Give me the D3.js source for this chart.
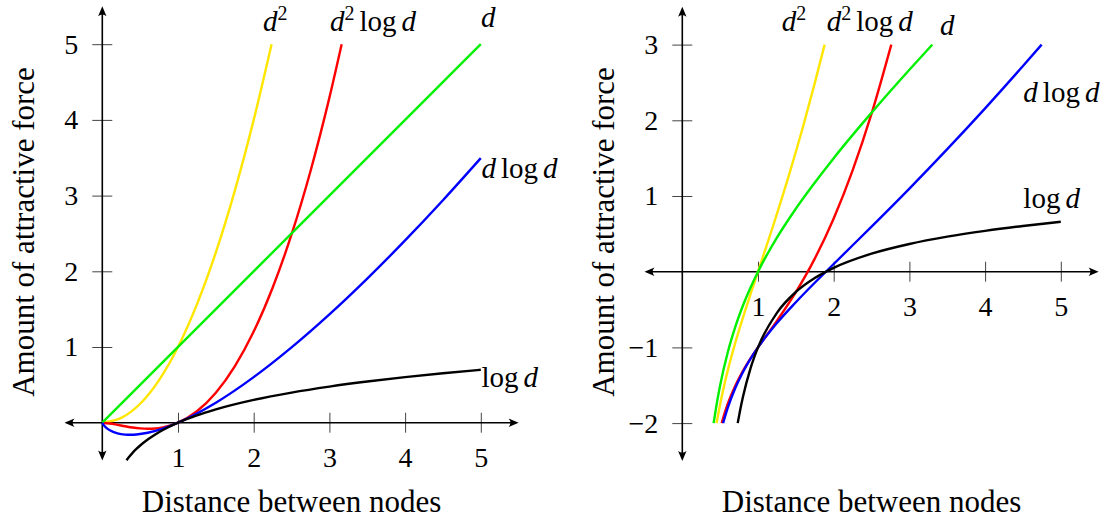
<!DOCTYPE html>
<html>
<head>
<meta charset="utf-8">
<script src="https://cdn.jsdelivr.net/npm/d3@7"></script>
</head>
<body style="margin:0; background:#fff">
<svg id="chart"></svg>
<script>
const width = 1104;
const height = 520;
const U = 75.7; // pixels per unit, both panels
const FONT = '"Liberation Serif"';

// tick labels
const xTicks = [1, 2, 3, 4, 5];
const leftYTicks = [1, 2, 3, 4, 5];
const rightYTicks = [-2, -1, 1, 2, 3];

// left panel, attractive force [d, f]
const leftSquare = [[0,0],[0.25,0.063],[0.5,0.25],[0.75,0.563],[1,1],[1.25,1.563],[1.5,2.25],[1.75,3.063],[2,4],[2.236,5]];
const leftSquareLog = [[0,0],[0.1,-0.01],[0.2,-0.028],[0.3,-0.047],[0.4,-0.064],[0.5,-0.075],[0.6,-0.08],[0.7,-0.076],[0.8,-0.062],[0.9,-0.037],[1,0],[1.25,0.151],[1.5,0.396],[1.75,0.744],[2,1.204],[2.25,1.783],[2.5,2.487],[2.75,3.322],[3,4.294],[3.162,5]];
const leftLinear = [[0,0],[5,5]];
const leftLinLog = [[0,0],[0.01,-0.02],[0.02,-0.034],[0.05,-0.065],[0.1,-0.1],[0.2,-0.14],[0.3,-0.157],[0.37,-0.16],[0.45,-0.156],[0.6,-0.133],[0.8,-0.078],[1,0],[1.5,0.264],[2,0.602],[2.5,0.995],[3,1.431],[3.5,1.904],[4,2.408],[4.5,2.939],[5,3.495]];
const leftLog = [[0.32,-0.495],[0.35,-0.456],[0.4,-0.398],[0.45,-0.347],[0.5,-0.301],[0.6,-0.222],[0.7,-0.155],[0.8,-0.097],[1,0],[1.25,0.097],[1.5,0.176],[2,0.301],[2.5,0.398],[3,0.477],[3.5,0.544],[4,0.602],[4.5,0.653],[5,0.699]];

// right panel, same forces with repulsion taken off
const rightSquare = [[0.453,-2],[0.5,-1.75],[0.55,-1.516],[0.6,-1.307],[0.7,-0.939],[0.8,-0.61],[0.9,-0.301],[1,0],[1.2,0.607],[1.4,1.246],[1.6,1.935],[1.75,2.491],[1.88,3]];
const rightSquareLog = [[0.52,-2],[0.55,-1.897],[0.6,-1.746],[0.7,-1.505],[0.8,-1.312],[0.9,-1.148],[1,-1],[1.25,-0.649],[1.5,-0.27],[1.75,0.173],[2,0.704],[2.25,1.339],[2.5,2.087],[2.761,3]];
const rightLinear = [[0.414,-2],[0.45,-1.772],[0.5,-1.5],[0.6,-1.067],[0.7,-0.729],[0.8,-0.45],[1,0],[1.25,0.45],[1.5,0.833],[2,1.5],[2.5,2.1],[3,2.667],[3.303,3]];
const rightLinLog = [[0.539,-2],[0.6,-1.8],[0.7,-1.537],[0.8,-1.328],[0.9,-1.152],[1,-1],[1.25,-0.679],[1.5,-0.403],[2,0.102],[2.5,0.595],[3,1.098],[3.5,1.619],[4,2.158],[4.5,2.717],[4.747,3]];
const rightLog = [[0.732,-2],[0.76,-1.85],[0.8,-1.659],[0.9,-1.28],[1,-1],[1.25,-0.543],[1.5,-0.268],[1.75,-0.084],[2,0.051],[2.5,0.238],[3,0.366],[3.5,0.463],[4,0.54],[4.5,0.604],[5,0.659]];

const YELLOW = "#ffe600", RED = "#ff0000", GREEN = "#00f000", BLUE = "#0000ff", BLACK = "#000";

// label pieces: [text, kind]  kind: i = italic, s = superscript, r = roman
const lblSq = [["d","i"],["2","s"]];
const lblSqLog = [["d","i"],["2","s"],["log","r"],["d","i"]];
const lblLin = [["d","i"]];
const lblLinLog = [["d","i"],["log","r"],["d","i"]];
const lblLog = [["log","r"],["d","i"]];

const panels = [
  {
    ox: 102.3, oy: 422.7, yDomain: [-0.5, 5.5], yTicks: leftYTicks,
    series: [
      {data: leftSquare, color: YELLOW, label: lblSq, at: [2.123, 5.168]},
      {data: leftSquareLog, color: RED, label: lblSqLog, at: [3.008, 5.168]},
      {data: leftLinear, color: GREEN, label: lblLin, at: [5.003, 5.227]},
      {data: leftLinLog, color: BLUE, label: lblLinLog, at: [5.01, 3.232]},
      {data: leftLog, color: BLACK, label: lblLog, at: [5.01, 0.478]},
    ]
  },
  {
    ox: 682.3, oy: 271.7, yDomain: [-2.5, 3.5], yTicks: rightYTicks,
    series: [
      {data: rightSquare, color: YELLOW, label: lblSq, at: [1.313, 3.184]},
      {data: rightSquareLog, color: RED, label: lblSqLog, at: [1.908, 3.184]},
      {data: rightLinear, color: GREEN, label: lblLin, at: [3.404, 3.127]},
      {data: rightLinLog, color: BLUE, label: lblLinLog, at: [4.505, 2.246]},
      {data: rightLog, color: BLACK, label: lblLog, at: [4.505, 0.838]},
    ]
  }
];

const svg = d3.select("#chart")
  .attr("width", width)
  .attr("height", height);

const fmt = d => d < 0 ? "\u2212" + Math.abs(d) : String(d);

function arrow(g, x, y, angle) {
  g.append("path")
    .attr("d", "M0,0 L-10,-4.2 Q-6.5,0 -10,4.2 Z")
    .attr("transform", `translate(${x},${y}) rotate(${angle})`)
    .style("fill", "#000");
}

function label(g, x, y, parts) {
  const t = g.append("text")
    .attr("x", x)
    .attr("y", y)
    .style("font-family", FONT)
    .style("font-size", "29px")
    .style("fill", "#000");
  let raised = false;
  parts.forEach((p, i) => {
    const ts = t.append("tspan").text(p[0]);
    let dy = 0;
    if (p[1] == "s") { dy = -11; raised = true; ts.style("font-size", "20px"); }
    else if (raised) { dy = 11; raised = false; }
    if (dy) ts.attr("dy", dy);
    if (p[1] == "i") ts.style("font-style", "italic");
    // thin space between words
    if (i > 0 && p[1] != "s") ts.attr("dx", 5);
  });
}

panels.forEach(p => {
  const g = svg.append("g");

  const x = d3.scaleLinear().domain([-0.5, 5.5]).range([p.ox - 0.5 * U, p.ox + 5.5 * U]);
  const y = d3.scaleLinear().domain(p.yDomain).range([p.oy - p.yDomain[0] * U, p.oy - p.yDomain[1] * U]);

  // ticks straddle the axis lines
  const xa = g.append("g")
    .attr("transform", `translate(0,${y(0) - 10})`)
    .call(d3.axisBottom(x).tickValues(xTicks).tickSize(20).tickPadding(14).tickFormat(fmt));
  const ya = g.append("g")
    .attr("transform", `translate(${x(0) + 10},0)`)
    .call(d3.axisLeft(y).tickValues(p.yTicks).tickSize(20).tickPadding(14).tickFormat(fmt));

  [xa, ya].forEach(a => {
    a.attr("font-family", null).attr("font-size", null);
    a.select(".domain").remove();
    a.selectAll(".tick line").style("stroke", "#444").style("stroke-width", 1);
    a.selectAll(".tick text")
      .style("font-family", FONT)
      .style("font-size", "28px")
      .style("fill", "#000");
  });

  // axis lines with arrows at both ends
  g.append("line")
    .attr("x1", x(-0.5) + 3).attr("x2", x(5.5) - 3)
    .attr("y1", y(0)).attr("y2", y(0))
    .style("stroke", "#000").style("stroke-width", 1.6);
  g.append("line")
    .attr("x1", x(0)).attr("x2", x(0))
    .attr("y1", y(p.yDomain[0]) - 3).attr("y2", y(p.yDomain[1]) + 3)
    .style("stroke", "#000").style("stroke-width", 1.6);
  arrow(g, x(5.5), y(0), 0);
  arrow(g, x(-0.5), y(0), 180);
  arrow(g, x(0), y(p.yDomain[1]), -90);
  arrow(g, x(0), y(p.yDomain[0]), 90);

  const line = d3.line()
    .x(d => x(d[0]))
    .y(d => y(d[1]))
    .curve(d3.curveMonotoneX);

  p.series.forEach(s => {
    g.append("path")
      .datum(s.data)
      .attr("d", line)
      .style("fill", "none")
      .style("stroke", s.color)
      .style("stroke-width", 2.4);
    label(g, x(s.at[0]), y(s.at[1]), s.label);
  });

  g.append("text")
    .attr("x", x(2.5))
    .attr("y", 512)
    .attr("text-anchor", "middle")
    .style("font-family", FONT)
    .style("font-size", "31px")
    .style("fill", "#000")
    .text("Distance between nodes");

  g.append("text")
    .attr("transform", `translate(${x(0) - 68},232) rotate(-90)`)
    .attr("text-anchor", "middle")
    .style("font-family", FONT)
    .style("font-size", "31px")
    .style("fill", "#000")
    .text("Amount of attractive force");
});
</script>
</body>
</html>
